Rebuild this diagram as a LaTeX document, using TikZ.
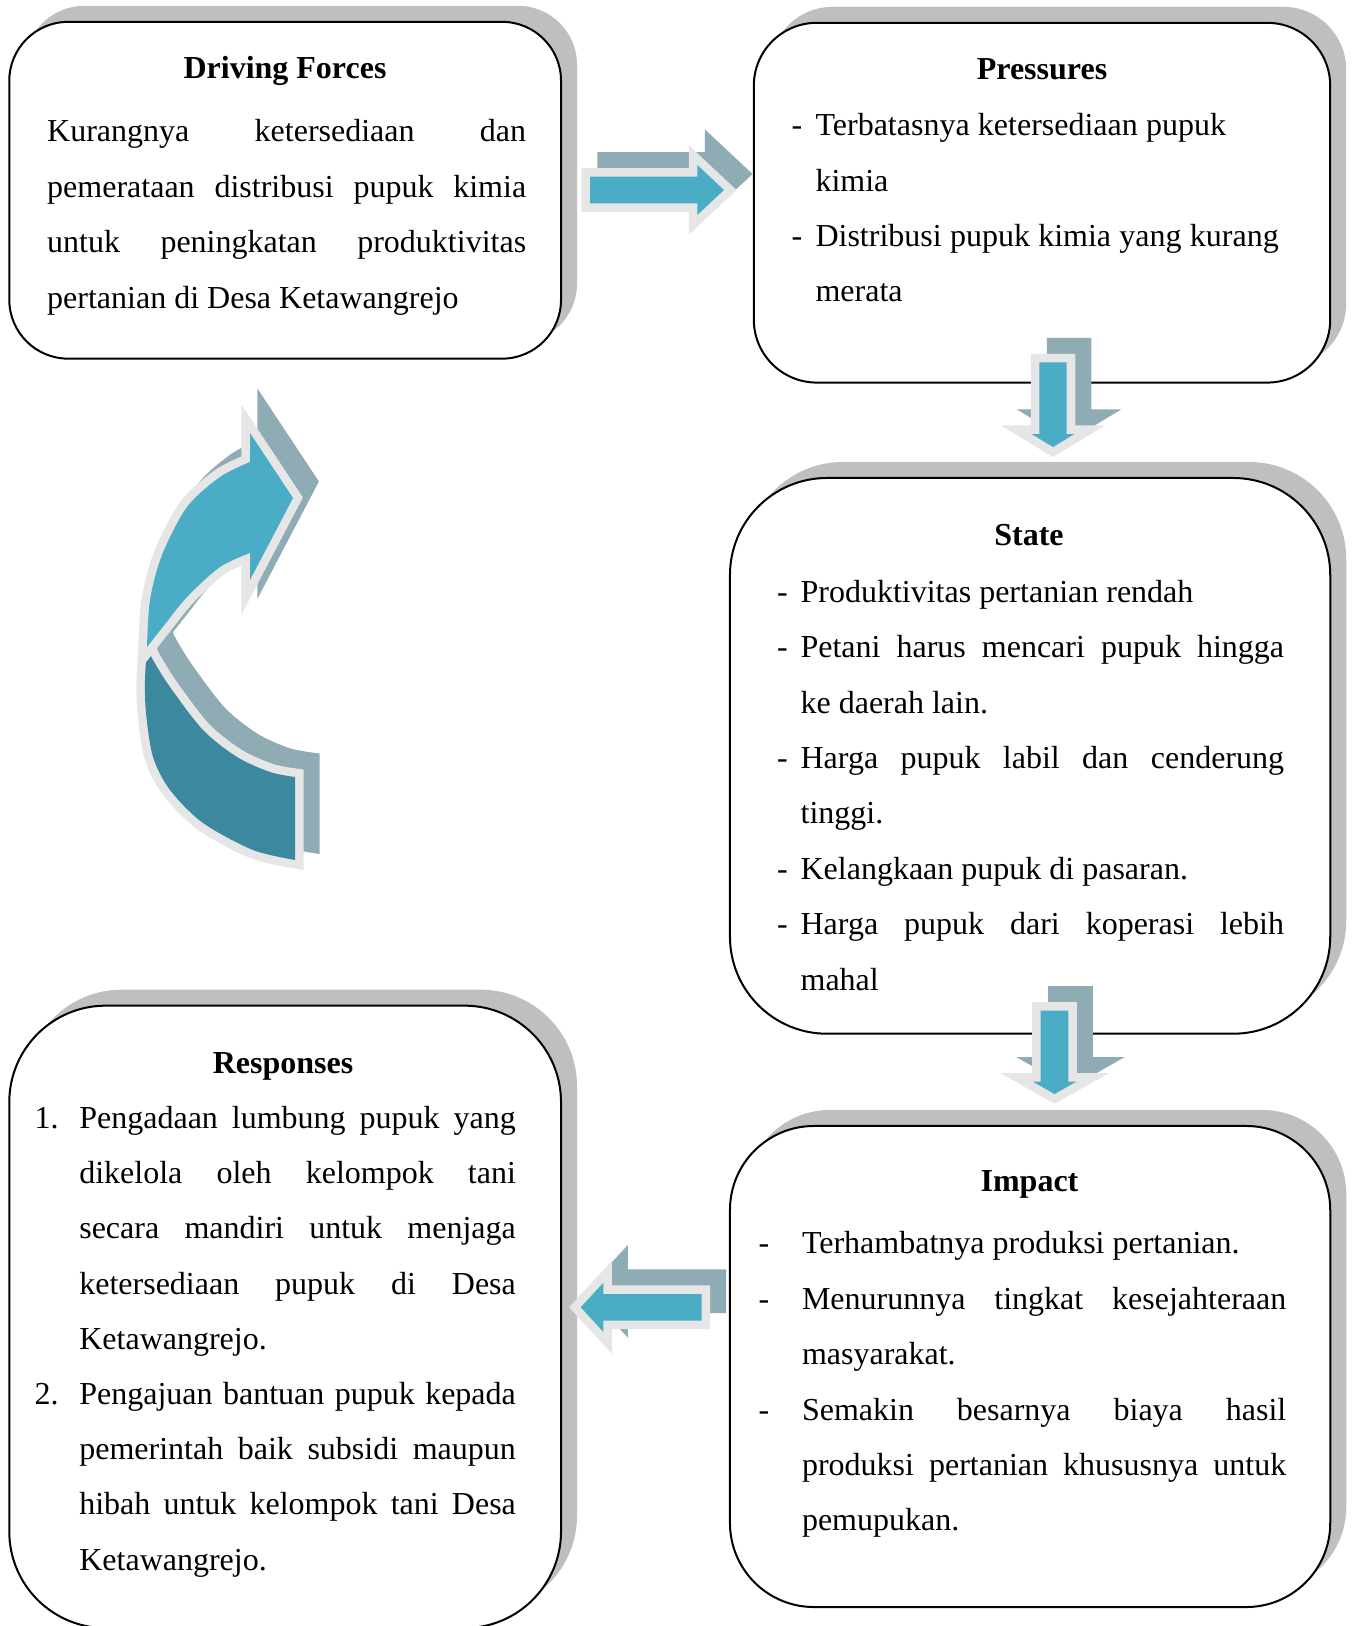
\documentclass[tikz,border=0pt]{standalone}
\usepackage{fontspec}
\setmainfont{Liberation Serif}
\usetikzlibrary{shadows}
\definecolor{boxshade}{HTML}{BFBFBF}
\definecolor{arrowblue}{HTML}{4BACC6}
\definecolor{arrowdeep}{HTML}{3C889E}
\definecolor{arrowback}{HTML}{8FACB5}
\definecolor{arrowrim}{HTML}{E6E6E6}
\hyphenpenalty=10000 \exhyphenpenalty=10000 \tolerance=10000 \hbadness=10000
% one list entry with a hanging label
\newcommand{\listline}[3]{\noindent\hangindent=#1\hangafter=1\hbox to #1{#2\hfil}\ignorespaces #3\par}

\begin{document}
\begin{tikzpicture}[x=0.375pt, y=-0.375pt,
  panel/.style={draw=black, line width=0.75pt, fill=white, inner sep=0pt, outer sep=0pt,
    general shadow={fill=boxshade, shadow xshift=6pt, shadow yshift=6pt}},
  heading/.style={font=\bfseries\fontsize{12pt}{14pt}\selectfont, inner sep=0pt, anchor=base},
  bodytext/.style={font=\fontsize{12pt}{20.78pt}\selectfont, inner sep=0pt, anchor=base west, align=justify},
  rimline/.style={draw=arrowrim, line width=6.4pt, line join=miter},
  backshape/.style={fill=arrowback, draw=arrowback, line width=6.4pt, line join=miter, shift={(16,-16)}},
  arrR/.style={insert path={(590,176.7) -- (697.3,176.7) -- (697.3,165) -- (724,190) -- (697.3,215) -- (697.3,203.3) -- (590,203.3) -- cycle}},
  arrDa/.style={insert path={(1039.3,362.3) -- (1066.7,362.3) -- (1066.7,434) -- (1074.5,434) -- (1053,447) -- (1031.5,434) -- (1039.3,434) -- cycle}},
  arrDb/.style={insert path={(1040.7,1010.7) -- (1068.3,1010.7) -- (1068.3,1081.7) -- (1076.2,1081.7) -- (1054.5,1094) -- (1032.8,1081.7) -- (1040.7,1081.7) -- cycle}},
  arrL/.style={insert path={(701.7,1294) -- (603.3,1294) -- (603.3,1282.8) -- (580.7,1307.3) -- (603.3,1331.8) -- (603.3,1320.6) -- (701.7,1320.6) -- cycle}},
  bendHead/.style={insert path={plot[smooth] coordinates {(147,647) (150,600) (162,555) (187,507) (220,477) (250,462)}
      -- (250,433) -- (293,498) -- (250,580) -- (250,553)
      -- plot[smooth] coordinates {(250,553) (220,567) (187,597) (162,628) (147,647)} -- cycle}},
  bendTail/.style={insert path={plot[smooth] coordinates {(147,647) (145,680) (146,713) (153,757) (170,790) (203,823) (253,850) (295,860)}
      -- (295,777)
      -- plot[smooth] coordinates {(295,777) (270,772) (237,757) (203,730) (170,687) (153,660) (147,647)} -- cycle}},
]
\useasboundingbox (0,0) rectangle (1352,1626);
\fill[white] (0,0) rectangle (1352,1626);

% ---------- panels ----------
\node[panel, rounded corners=22.1pt, minimum width=206.9pt, minimum height=126.3pt] (drv) at (285.15,190.25) {};
\node[panel, rounded corners=23.6pt, minimum width=216.15pt, minimum height=134.9pt] (prs) at (1042,202.7) {};
\node[panel, rounded corners=36.4pt, minimum width=225.1pt, minimum height=208.4pt] (sta) at (1030.1,755.85) {};
\node[panel, rounded corners=31.5pt, minimum width=225.1pt, minimum height=180.4pt] (imp) at (1030.1,1366.5) {};
\node[panel, rounded corners=36.2pt, minimum width=206.9pt, minimum height=233.4pt] (rsp) at (285.15,1316.85) {};

% ---------- texts ----------
\node[heading] (drvh) at (285,78.8) {Driving Forces};
\node[bodytext, text width=179.6pt] (drvb) at (46.7,142) {Kurangnya ketersediaan dan\linebreak pemerataan distribusi pupuk kimia\linebreak untuk peningkatan produktivitas\linebreak pertanian di Desa Ketawangrejo};

\node[heading] (prsh) at (1042,79.8) {Pressures};
\node[bodytext, align=left, text width=200pt] (prsb) at (791,135.7) {%
  \spaceskip=3.1pt plus 0.5pt minus 0.5pt
  \listline{9pt}{-}{Terbatasnya ketersediaan pupuk\newline kimia}%
  \listline{9pt}{-}{Distribusi pupuk kimia yang kurang\newline merata}};

\node[heading] (stah) at (1029,545.3) {State};
\node[bodytext, text width=190.1pt] (stab) at (776.6,602.2) {%
  \listline{8.8pt}{-}{Produktivitas pertanian rendah}%
  \listline{8.8pt}{-}{Petani harus mencari pupuk hingga\linebreak ke daerah lain.}%
  \listline{8.8pt}{-}{Harga pupuk labil dan cenderung\linebreak tinggi.}%
  \listline{8.8pt}{-}{Kelangkaan pupuk di pasaran.}%
  \listline{8.8pt}{-}{Harga pupuk dari koperasi lebih\linebreak mahal}};

\node[heading] (imph) at (1029.5,1191.2) {Impact};
\node[bodytext, text width=197.9pt] (impb) at (758,1253.8) {%
  \listline{16.3pt}{-}{Terhambatnya produksi pertanian.}%
  \listline{16.3pt}{-}{Menurunnya tingkat kesejahteraan\linebreak masyarakat.}%
  \listline{16.3pt}{-}{Semakin besarnya biaya hasil\linebreak produksi pertanian khususnya untuk\linebreak pemupukan.}};

\node[heading] (rsph) at (283,1073) {Responses};
\node[bodytext, font=\fontsize{12pt}{20.7pt}\selectfont, text width=180.5pt] (rspb) at (34,1128.5) {%
  \listline{16.8pt}{1.}{Pengadaan lumbung pupuk yang\linebreak dikelola oleh kelompok tani\linebreak secara mandiri untuk menjaga\linebreak ketersediaan pupuk di Desa\linebreak Ketawangrejo.}%
  \listline{16.8pt}{2.}{Pengajuan bantuan pupuk kepada\linebreak pemerintah baik subsidi maupun\linebreak hibah untuk kelompok tani Desa\linebreak Ketawangrejo.}};

% ---------- block arrows between panels ----------
\path[backshape, arrR];  \path[rimline, arrR];  \path[fill=arrowblue, arrR];
\path[backshape, arrDa]; \path[rimline, arrDa]; \path[fill=arrowblue, arrDa];
\path[backshape, arrDb]; \path[rimline, arrDb]; \path[fill=arrowblue, arrDb];
\path[backshape, arrL];  \path[rimline, arrL];  \path[fill=arrowblue, arrL];

% ---------- curved return arrow ----------
\path[backshape, bendTail];
\path[backshape, bendHead];
\path[rimline, bendTail];
\path[fill=arrowdeep, bendTail];
\path[rimline, bendHead];
\path[fill=arrowblue, bendHead];
\end{tikzpicture}
\end{document}
